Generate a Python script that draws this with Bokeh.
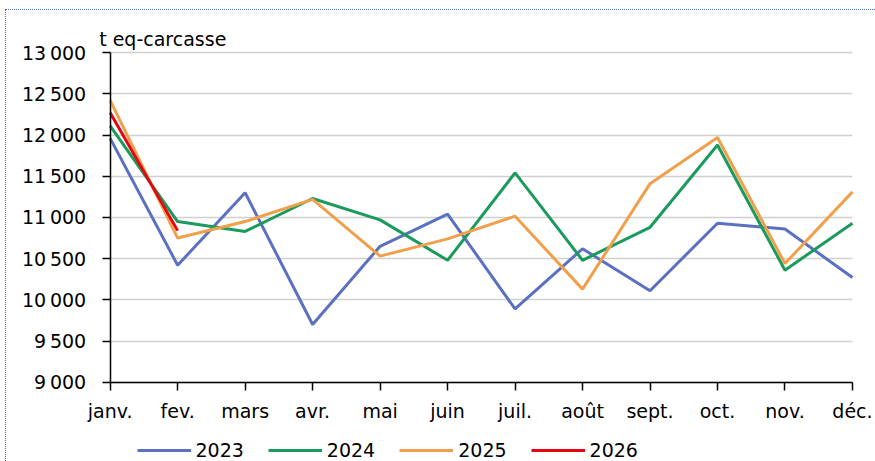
from bokeh.plotting import figure
from bokeh.models import Range1d, FixedTicker, Legend, LegendItem, Grid, Label
from bokeh.embed import file_html
from bokeh.resources import INLINE

months = ["janv.", "fev.", "mars", "avr.", "mai", "juin", "juil.", "août", "sept.", "oct.", "nov.", "déc."]
y2023 = [11960, 10420, 11300, 9700, 10650, 11040, 9890, 10620, 10110, 10930, 10860, 10270]
y2024 = [12110, 10950, 10830, 11230, 10970, 10480, 11540, 10480, 10880, 11880, 10360, 10930]
y2025 = [12420, 10750, 10950, 11220, 10530, 10740, 11015, 10130, 11410, 11970, 10440, 11310]
y2026 = [12270, 10840]
series = [("2023", y2023, "#5b70c1"), ("2024", y2024, "#1b9a5e"),
          ("2025", y2025, "#f0a04a"), ("2026", y2026, "#e30613")]
y_ticks = [9000, 9500, 10000, 10500, 11000, 11500, 12000, 12500, 13000]
y_tick_labels = {t: f"{t:,}".replace(",", "\u2009") for t in y_ticks}
unit_label = "t eq-carcasse"

FONT = "DejaVu Sans"
FS = "19px"
Y_MIN, Y_MAX = 9000, 13000
X_MIN, X_MAX = 0, len(months) - 1

# layout: the frame covers the whole canvas so that axis labels, the unit
# label and the legend (all drawn inside the frame) are not clipped
CANVAS_L, CANVAS_T, CANVAS_R, CANVAS_B = 6.5, 10.5, 875, 461
AX_L, AX_R, AX_T, AX_B = 110, 851, 52.5, 381
px_x = (AX_R - AX_L) / (X_MAX - X_MIN)
px_y = (AX_B - AX_T) / (Y_MAX - Y_MIN)
x_view = (X_MIN - (AX_L - CANVAS_L) / px_x, X_MAX + (CANVAS_R - AX_R) / px_x)
y_view = (Y_MIN - (CANVAS_B - AX_B) / px_y, Y_MAX + (AX_T - CANVAS_T) / px_y)

p = figure(width=870, height=452, output_backend="svg", toolbar_location=None,
           x_range=Range1d(*x_view), y_range=Range1d(*y_view),
           min_border_left=0, min_border_right=0, min_border_top=0, min_border_bottom=0)
p.styles = {"margin-left": "5px", "margin-top": "9px",
            "border-top": "1.5px dotted #4a6cc8", "border-left": "1.5px dotted #4a6cc8"}
p.outline_line_color = None
p.background_fill_color = "white"

items = []
for name, ys, col in series:
    r = p.line(list(range(len(ys))), ys, line_color=col, line_width=3)
    items.append(LegendItem(label=name, renderers=[r]))

p.xaxis.ticker = FixedTicker(ticks=list(range(len(months))))
p.xaxis.major_label_overrides = {i: m for i, m in enumerate(months)}
p.xaxis.fixed_location = Y_MIN
p.xaxis.bounds = (X_MIN, X_MAX)
p.yaxis.ticker = FixedTicker(ticks=y_ticks)
p.yaxis.major_label_overrides = y_tick_labels
p.yaxis.fixed_location = X_MIN
p.yaxis.bounds = (Y_MIN, Y_MAX)
for ax in (p.xaxis, p.yaxis):
    ax.axis_line_color = "black"
    ax.axis_line_width = 1.5
    ax.major_tick_line_color = "black"
    ax.major_tick_line_width = 1.5
    ax.major_tick_out = 8
    ax.major_tick_in = 0
    ax.minor_tick_line_color = None
    ax.major_label_text_font = FONT
    ax.major_label_text_font_size = FS
    ax.major_label_text_color = "black"
p.xaxis.major_label_standoff = 10
p.yaxis.major_label_standoff = 16
p.xgrid.grid_line_color = None

if "cross_bounds" in Grid.properties():
    p.ygrid.grid_line_color = "#d0d0d0"
    p.ygrid.grid_line_width = 1.5
    p.ygrid.cross_bounds = (X_MIN, X_MAX)
else:
    p.ygrid.grid_line_color = None
    p.segment(x0=[X_MIN] * len(y_ticks), x1=[X_MAX] * len(y_ticks), y0=y_ticks, y1=y_ticks,
              line_color="#d0d0d0", line_width=1.5, level="underlay")

p.add_layout(Label(x=X_MIN - 11 / px_x, y=Y_MAX + (AX_T - 39) / px_y, text=unit_label,
                   text_font=FONT, text_font_size=FS, text_color="black",
                   text_baseline="alphabetic", text_align="left"))

legend = Legend(items=items, orientation="horizontal", location=(137 - CANVAS_L, 1),
                label_text_font=FONT, label_text_font_size=FS, label_text_color="black",
                glyph_width=54, glyph_height=20, spacing=24, label_standoff=5,
                background_fill_alpha=0, border_line_color=None, padding=0, margin=0)
p.add_layout(legend)

open("out.html", "w").write(file_html(p, INLINE))
